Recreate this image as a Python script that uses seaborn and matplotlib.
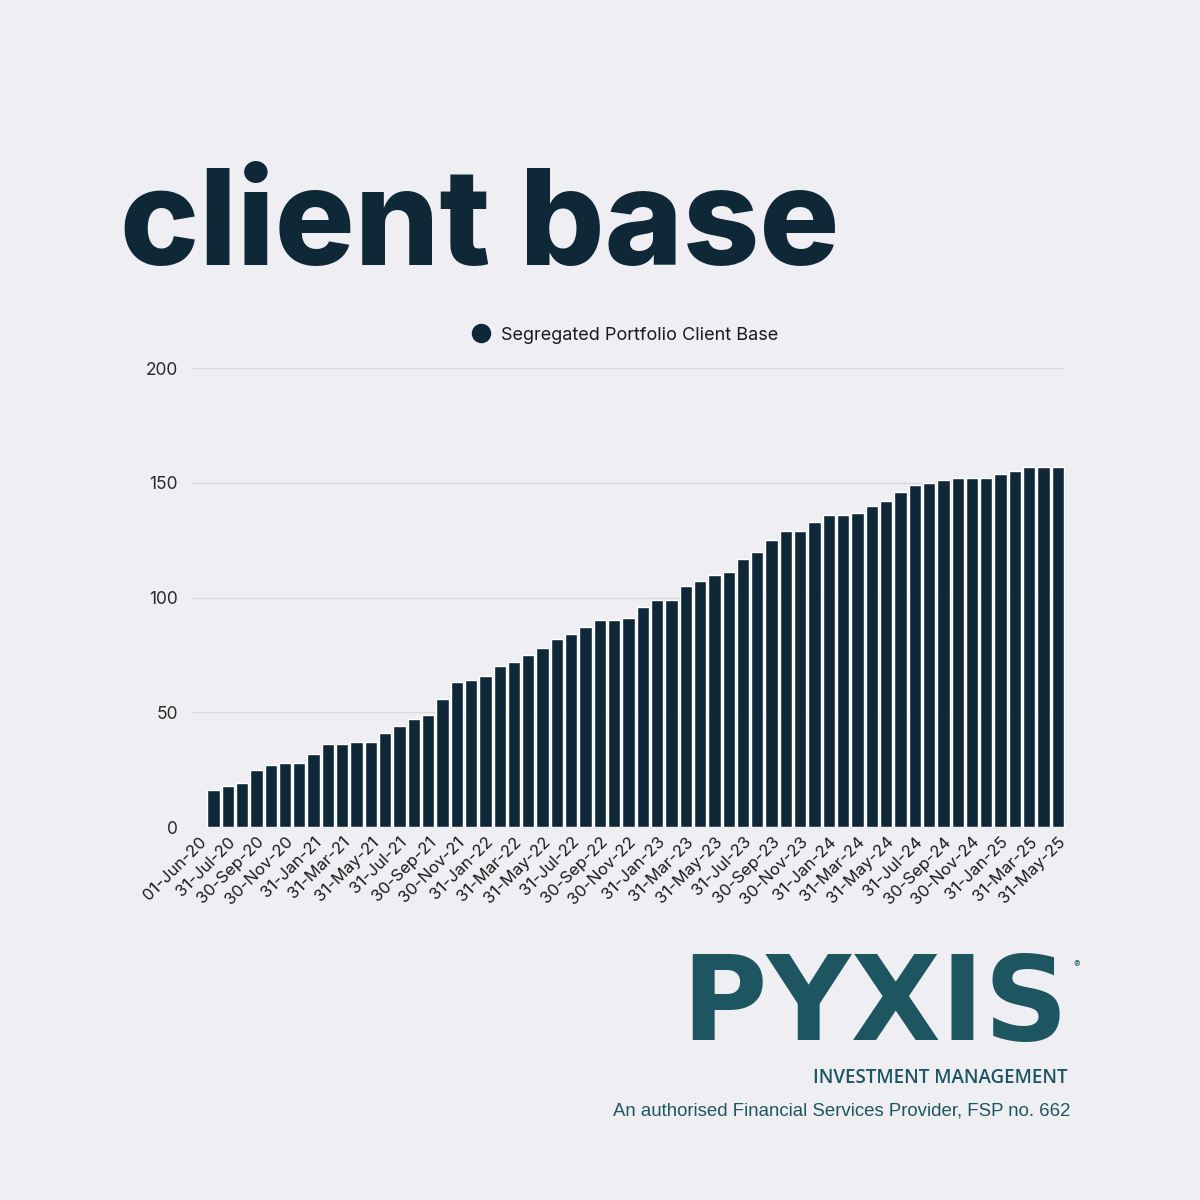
import pandas as pd
import matplotlib
matplotlib.use("Agg")
import matplotlib.pyplot as plt
from matplotlib.lines import Line2D
import seaborn as sns

# month-end snapshots of the segregated portfolio client count
dates = ["01-Jun-20"] + [d.strftime("%d-%b-%y") for d in pd.date_range("2020-06-30", "2025-05-31", freq="ME")]
clients = [0, 16, 18, 19, 25, 27, 28, 28, 32, 36, 36,
           37, 37, 41, 44, 47, 49, 56, 63, 64, 66,
           70, 72, 75, 78, 82, 84, 87, 90, 90, 91,
           96, 99, 99, 105, 107, 110, 111, 117, 120, 125,
           129, 129, 133, 136, 136, 137, 140, 142, 146, 149,
           150, 151, 152, 152, 152, 154, 155, 157, 157, 157]
y_ticks = [0, 50, 100, 150, 200]

BG = "#EFEFF3"
NAVY = "#0F2838"
TEAL = "#1D5661"


def draw():
    df = pd.DataFrame({"Date": dates, "Clients": clients})

    sns.set_style("white")
    plt.rcParams["font.family"] = ["Inter", "DejaVu Sans"]

    fig = plt.figure(figsize=(12, 12), dpi=100, facecolor=BG)
    ax = fig.add_axes([0.16, 0.3108, 0.7275, 0.3825])
    ax.set_facecolor(BG)

    sns.barplot(data=df, x="Date", y="Clients", color=NAVY, saturation=1,
                width=0.86, ax=ax)

    ax.set_ylim(0, 200)
    ax.set_xlim(-0.5, len(dates) - 0.5)
    ax.set_yticks(y_ticks)
    ax.set_yticklabels([str(v) for v in y_ticks], fontsize=12.5, color="#2a2a2a")
    ax.yaxis.grid(True, color="#D9D9DE", linewidth=1)
    ax.set_axisbelow(True)
    for s in ax.spines.values():
        s.set_visible(False)
    ax.tick_params(axis="y", length=0, pad=10)
    ax.tick_params(axis="x", length=0, pad=5)

    pos = list(range(0, len(dates), 2))
    ax.set_xticks(pos)
    ax.set_xticklabels([dates[i] for i in pos], rotation=45, ha="right",
                       rotation_mode="anchor", fontsize=12, color="#1a1a1a")
    ax.set_xlabel("")
    ax.set_ylabel("")

    handle = Line2D([], [], marker="o", linestyle="", markersize=13,
                    markerfacecolor=NAVY, markeredgecolor=NAVY)
    fig.legend([handle], ["Segregated Portfolio Client Base"], loc="center",
               bbox_to_anchor=(0.517, 1 - 335 / 1200), frameon=False,
               fontsize=13, handletextpad=0.1, labelcolor="#1a1a1a")

    fig.text(0.1, 1 - 265 / 1200, "client base", fontsize=96, fontweight="heavy",
             color=NAVY, ha="left", va="baseline")

    fig.text(1068 / 1200, 1 - 1040 / 1200, "PYXIS", fontsize=84, fontweight="bold",
             color=TEAL, ha="right", va="baseline", family=["DejaVu Sans"])
    fig.text(1073 / 1200, 1 - 965 / 1200, "®", fontsize=7, color=TEAL, ha="left", va="center")
    fig.text(1068 / 1200, 1 - 1083 / 1200, "INVESTMENT MANAGEMENT", fontsize=13.5,
             fontweight="semibold", color=TEAL, ha="right", va="baseline",
             family=["Open Sans", "DejaVu Sans"])
    fig.text(1070 / 1200, 1 - 1116 / 1200,
             "An authorised Financial Services Provider, FSP no. 662", fontsize=13.4,
             color=TEAL, ha="right", va="baseline", family=["Liberation Sans", "DejaVu Sans"])

    fig.savefig("out.png", dpi=100, facecolor=BG)


if __name__ == "__main__":
    draw()
